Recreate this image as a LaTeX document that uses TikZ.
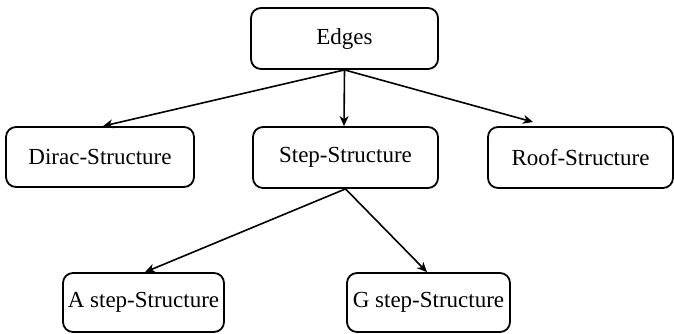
\documentclass[tikz,border=0pt]{standalone}
\usepackage{fontspec}
\setmainfont{Liberation Serif}
\usetikzlibrary{arrows.meta,calc}
\begin{document}
\begin{tikzpicture}[x=1pt,y=-1pt,
  box/.style={draw, line width=1.8pt, rounded corners=10pt, inner sep=0pt,
    font=\fontsize{23}{27}\selectfont},
  conn/.style={line width=1.6pt, -{Stealth[length=10pt,width=9pt,inset=3pt]}}]
\useasboundingbox (0,0) rectangle (674,333);
\node[box, minimum width=187pt, minimum height=61pt] (edges) at (344.5,38.5) {Edges};
\node[box, minimum width=188pt, minimum height=60pt] (dirac) at (100,157) {Dirac-Structure};
\node[box, minimum width=185pt, minimum height=61pt] (step) at (345.5,157.5) {Step-Structure};
\node[box, minimum width=185pt, minimum height=61pt] (roof) at (580.5,157.5) {Roof-Structure};
\node[box, minimum width=161pt, minimum height=59pt] (astep) at (143.5,302.5) {A step-Structure};
\node[box, minimum width=163pt, minimum height=59pt] (gstep) at (428.5,302.5) {G step-Structure};
\coordinate (roofin) at (533,122);
\draw[conn] (edges.south) -- ($(dirac.north)+(3,0)$);
\draw[conn] (edges.south) -- ($(step.north)+(-1.5,0)$);
\draw[conn] (edges.south) -- (roofin);
\draw[conn] (step.south) -- ($(astep.north)+(1.5,0)$);
\draw[conn] (step.south) -- ($(gstep.north)+(-1.5,0)$);
\end{tikzpicture}
\end{document}
